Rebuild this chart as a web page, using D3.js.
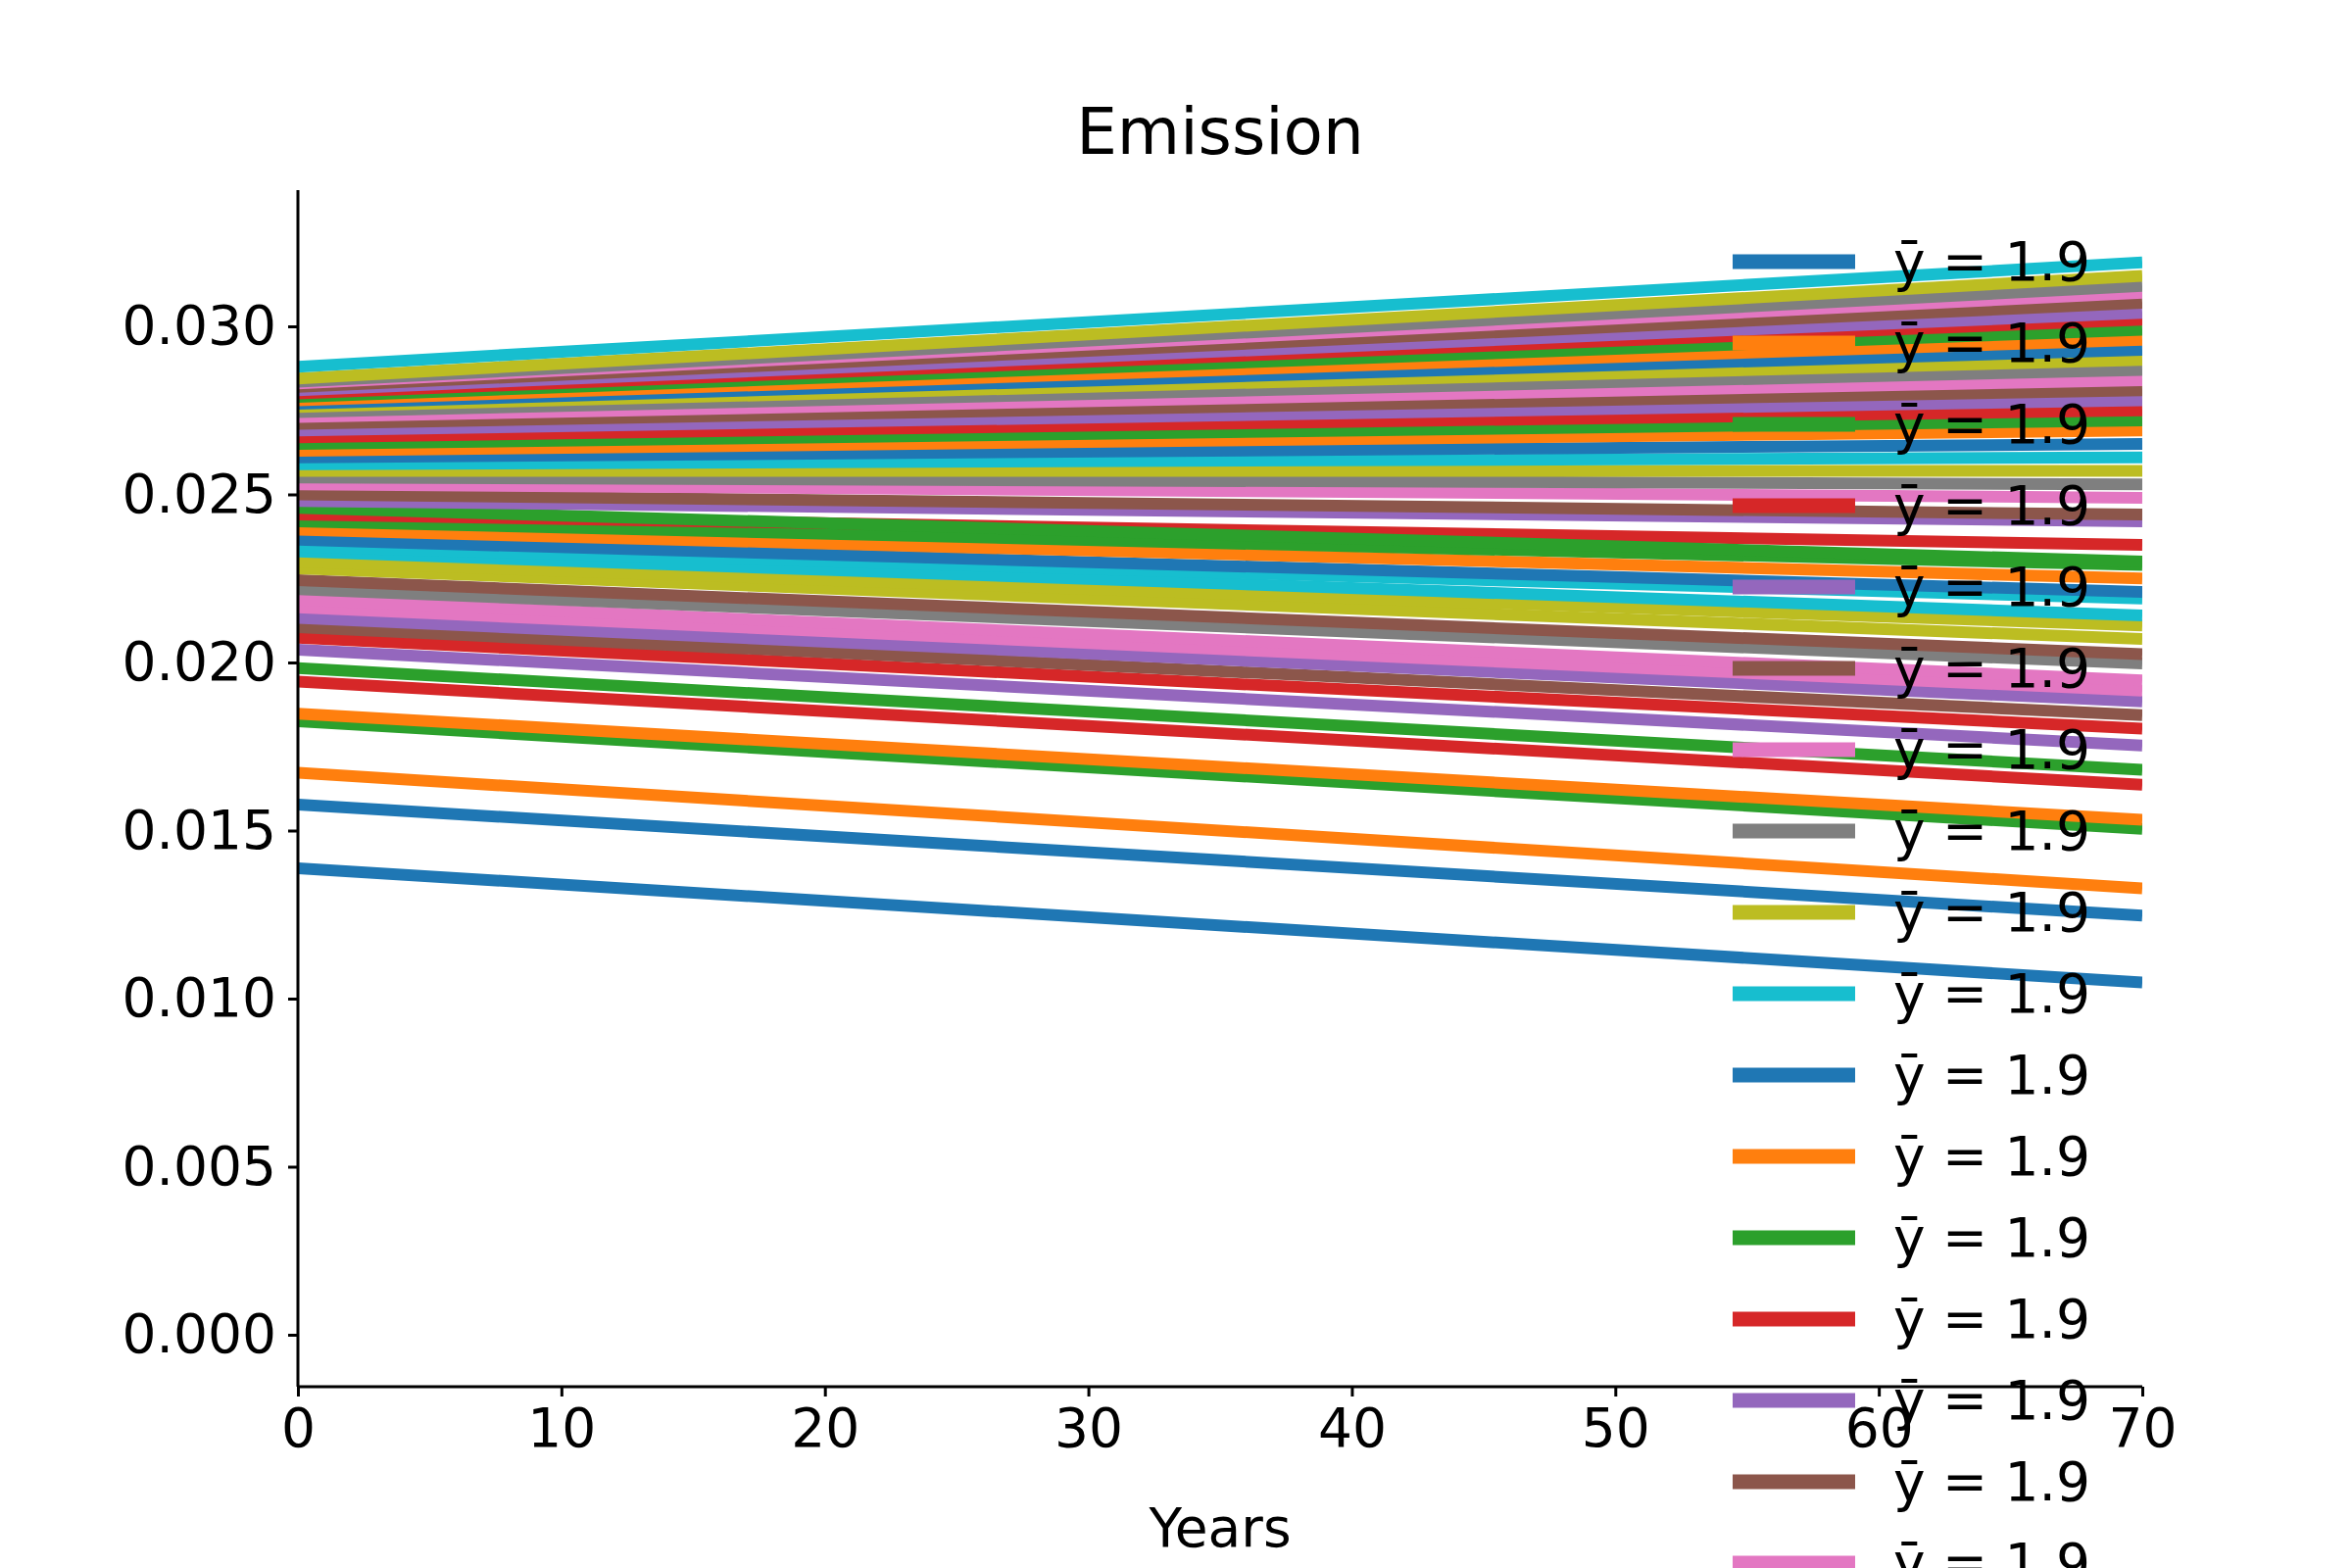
<!DOCTYPE html>
<html><head><meta charset="utf-8">
<script src="https://cdn.jsdelivr.net/npm/d3@7"></script>
<style>body{margin:0;background:#fff}svg{font-family:"DejaVu Sans",sans-serif}</style>
</head><body>
<svg id="chart" width="2400" height="1600"></svg>
<script>
// series colours (tab10 names) plus start / end value at year 0 and 70
const seriesColors = ["blue","blue","orange","green","orange","red","green","purple","red","brown",
  "purple","pink","pink","gray","brown","olive","olive","cyan","cyan","blue",
  "orange","green","red","green","purple","brown","pink","gray","olive","cyan",
  "blue","orange","green","red","purple","brown","pink","gray","olive","blue",
  "orange","green","red","purple","brown","pink","gray","olive","cyan"];
const startValues = [.01388,.01577,.01672,.01825,.01848,.01943,.01983,.02038,.02074,.02105,
  .02133,.02164,.02187,.02218,.02245,.02280,.02300,.02330,.02345,.02365,
  .02395,.02420,.02440,.02460,.02480,.02500,.02530,.02550,.02570,.02590,
  .02610,.02630,.02650,.02670,.02690,.02710,.02730,.02745,.02760,.02770,
  .02780,.02790,.02800,.02810,.02820,.02830,.02835,.02845,.02880];
const endValues = [.01048,.01247,.01328,.01505,.01532,.01636,.01681,.01753,.01803,.01843,
  .01884,.01916,.01947,.01997,.02025,.02070,.02110,.02140,.02190,.02210,
  .02250,.02290,.02350,.02300,.02420,.02440,.02490,.02530,.02570,.02610,
  .02650,.02690,.02720,.02750,.02780,.02810,.02840,.02870,.02900,.02930,
  .02960,.02990,.03020,.03040,.03070,.03100,.03120,.03150,.03190];
const years = [0, 70];
const xTicks = [0,10,20,30,40,50,60,70];
const yTicks = [0,0.005,0.01,0.015,0.02,0.025,0.03];
const legendLabel = "y\u0304 = 1.9";
const legendCount = 20;

const tab10 = {blue:"#1f77b4",orange:"#ff7f0e",green:"#2ca02c",red:"#d62728",purple:"#9467bd",
  brown:"#8c564b",pink:"#e377c2",gray:"#7f7f7f",olive:"#bcbd22",cyan:"#17becf"};
const cycle = Object.values(tab10);

const svg = d3.select("#chart");
const pLeft = 304, pRight = 2186, pTop = 194, pBottom = 1415;
const x = d3.scaleLinear().domain([0,70]).range([pLeft,pRight]);
const y = d3.scaleLinear().domain([0,0.03]).range([1362,333]);

const plot = svg.append("g");
plot.append("clipPath").attr("id","clip").append("rect")
  .attr("x",pLeft).attr("y",pTop).attr("width",pRight-pLeft).attr("height",pBottom-pTop);
const line = d3.line().x(d=>x(d[0])).y(d=>y(d[1]));
plot.append("g").attr("clip-path","url(#clip)")
  .selectAll("path").data(seriesColors.map((c,i)=>({c, pts:[[years[0],startValues[i]],[years[1],endValues[i]]]})))
  .join("path").attr("d",d=>line(d.pts)).attr("fill","none")
  .attr("stroke",d=>tab10[d.c]).attr("stroke-width",12);

const xAxis = svg.append("g").attr("transform",`translate(0,${pBottom})`)
  .call(d3.axisBottom(x).tickValues(xTicks).tickSize(10).tickPadding(12));
const yAxis = svg.append("g").attr("transform",`translate(${pLeft},0)`)
  .call(d3.axisLeft(y).tickValues(yTicks).tickFormat(d3.format(".3f")).tickSize(10).tickPadding(12));
xAxis.select(".domain").attr("d",`M${pLeft},0H${pRight}`);
yAxis.select(".domain").attr("d",`M0,${pTop}V${pBottom}`);
[xAxis,yAxis].forEach(a=>{
  a.selectAll("path,line").attr("stroke","#000").attr("stroke-width",3);
  a.selectAll("text").attr("font-size",55).attr("fill","#000").attr("font-family","DejaVu Sans");
});

svg.append("text").attr("x",(pLeft+pRight)/2).attr("y",157).attr("text-anchor","middle")
  .attr("font-size",66).text("Emission");
svg.append("text").attr("x",(pLeft+pRight)/2).attr("y",1578).attr("text-anchor","middle")
  .attr("font-size",55).text("Years");

const leg = svg.append("g");
d3.range(legendCount).forEach(i=>{
  const yy = 267 + i*83;
  leg.append("line").attr("x1",1768).attr("x2",1893).attr("y1",yy).attr("y2",yy)
    .attr("stroke",cycle[i%10]).attr("stroke-width",15);
  leg.append("text").attr("x",1932).attr("y",yy+19).attr("font-size",55).text(legendLabel);
});
</script>
</body></html>
